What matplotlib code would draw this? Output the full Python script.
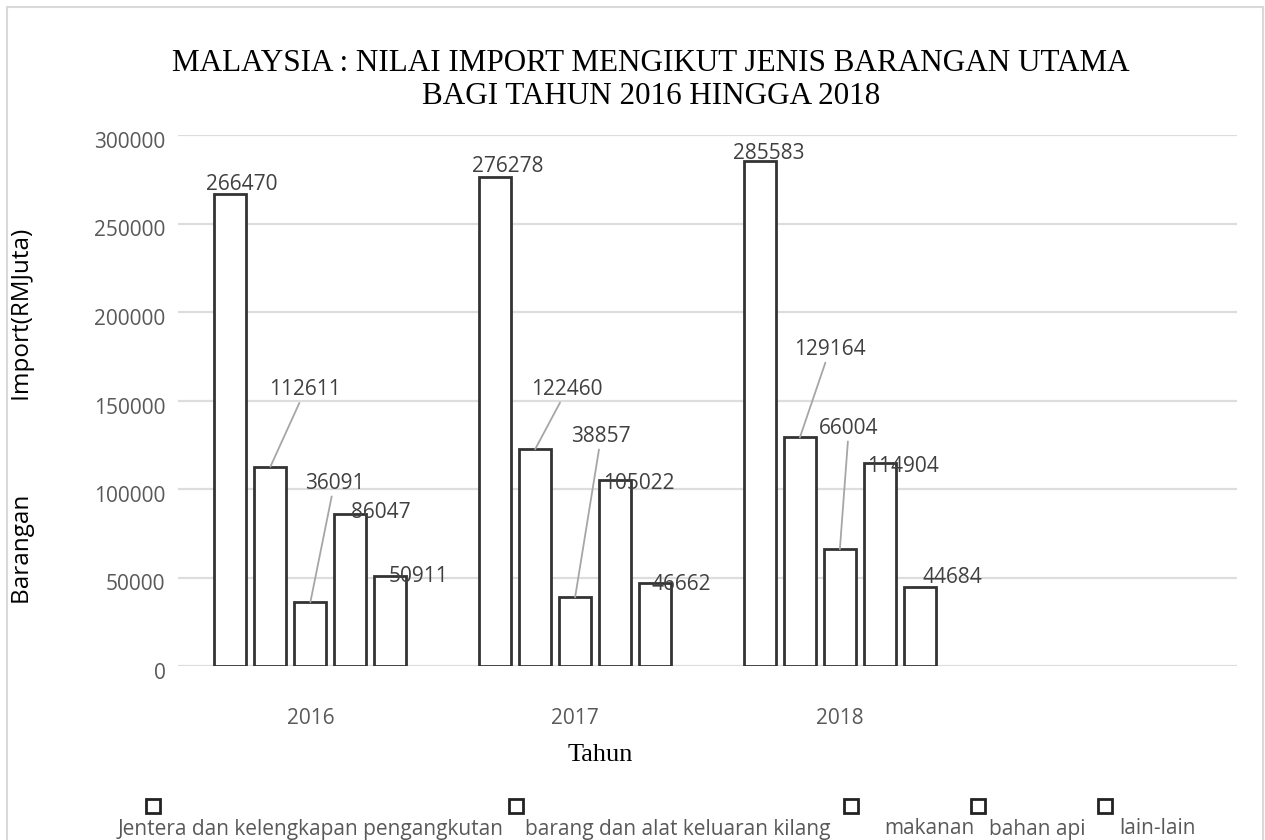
import numpy as np
import matplotlib
matplotlib.use("Agg")
import matplotlib.pyplot as plt
import matplotlib.transforms as mtransforms
from matplotlib.patches import Rectangle
from matplotlib.lines import Line2D

plt.rcParams["font.family"] = ["Open Sans", "DejaVu Sans"]

years = ["2016", "2017", "2018"]
series_names = ["Jentera dan kelengkapan pengangkutan", "barang dan alat keluaran kilang",
                "makanan", "bahan api", "lain-lain"]
jentera = [266470, 276278, 285583]
barang = [112611, 122460, 129164]
makanan = [36091, 38857, 66004]
bahan_api = [86047, 105022, 114904]
lain_lain = [50911, 46662, 44684]
values = [jentera, barang, makanan, bahan_api, lain_lain]

# label offsets in pixels from bar top (per year, per series)
label_off = [
    [(11, 10), (35, 77), (24, 119), (30, 1), (28, -1)],
    [(13, 10), (32, 60), (26, 161), (24, -3), (26, -1)],
    [(9, 7), (30, 88), (9, 121), (23, -4), (33, 9)],
]
leader = [False, True, True, False, False]

fig = plt.figure(figsize=(12.65, 8.4), dpi=100)
ax = fig.add_axes([178 / 1265, 1 - 666 / 840, (1237 - 178) / 1265, (666 - 135) / 840])

x = np.arange(len(years))
pitch = 0.151
width = 0.121
for i, vals in enumerate(values):
    xs = x + (i - 2) * pitch
    ax.bar(xs, vals, width, color="white", edgecolor="#333333", linewidth=2.0, zorder=3)
    for j, v in enumerate(vals):
        dx, dy = label_off[j][i]
        kw = {}
        if leader[i]:
            kw["arrowprops"] = dict(arrowstyle="-", color="#a6a6a6", lw=1.3,
                                    shrinkA=0, shrinkB=0)
        ax.annotate(str(v), xy=(xs[j], v), xytext=(dx, dy), textcoords="offset pixels",
                    ha="center", va="center", fontsize=15, color="#404040", zorder=4, **kw)

ax.set_xlim(-0.5, 3.5)
ax.set_ylim(0, 300000)
ax.set_yticks(np.arange(0, 300001, 50000))
ax.set_xticks(x)
ax.set_xticklabels(years)
ax.yaxis.grid(True, color="#dddddd", linewidth=1.6, zorder=0)
ax.set_axisbelow(True)
for s in ax.spines.values():
    s.set_visible(False)
ax.tick_params(axis="both", length=0, labelsize=15, colors="#595959")
ax.tick_params(axis="x", pad=30)
ax.tick_params(axis="y", pad=9)
off = mtransforms.ScaledTranslation(0, -5 / 100, fig.dpi_scale_trans)
for t in ax.yaxis.get_major_ticks():
    t.label1.set_transform(t.label1.get_transform() + off)

ax.set_ylabel("Barangan" + " " * 15 + "Import(RMJuta)", fontsize=17.5, color="black")
ax.yaxis.set_label_coords(-0.135, 0.47)

fig.text(651 / 1265, 1 - 80 / 840,
         "MALAYSIA : NILAI IMPORT MENGIKUT JENIS BARANGAN UTAMA\nBAGI TAHUN 2016 HINGGA 2018",
         ha="center", va="center", fontsize=22.4, family="Liberation Serif",
         linespacing=1.2, color="black")
fig.text(600 / 1265, 1 - 755 / 840, "Tahun", ha="center", va="center", fontsize=19,
         family="Liberation Serif", color="black")

# legend, placed by hand like the original
marker_x = [153, 516, 851, 978, 1105]
text_x = [118, 525, 884, 989, 1119]
for name, mx, tx in zip(series_names, marker_x, text_x):
    fig.add_artist(Line2D([mx / 1265], [1 - 806 / 840], marker="s", markersize=10,
                          markerfacecolor="white", markeredgecolor="#222222",
                          markeredgewidth=2, linestyle="none", transform=fig.transFigure))
    fig.text(tx / 1265, 1 - 829 / 840, name, ha="left", va="center", fontsize=15,
             color="#595959")

fig.add_artist(Rectangle((7 / 1265, -0.05), (1263 - 7) / 1265, 1.05 - 7 / 840,
                         transform=fig.transFigure, fill=False, edgecolor="#d9d9d9",
                         linewidth=1.5))

fig.savefig("out.png", dpi=100)
